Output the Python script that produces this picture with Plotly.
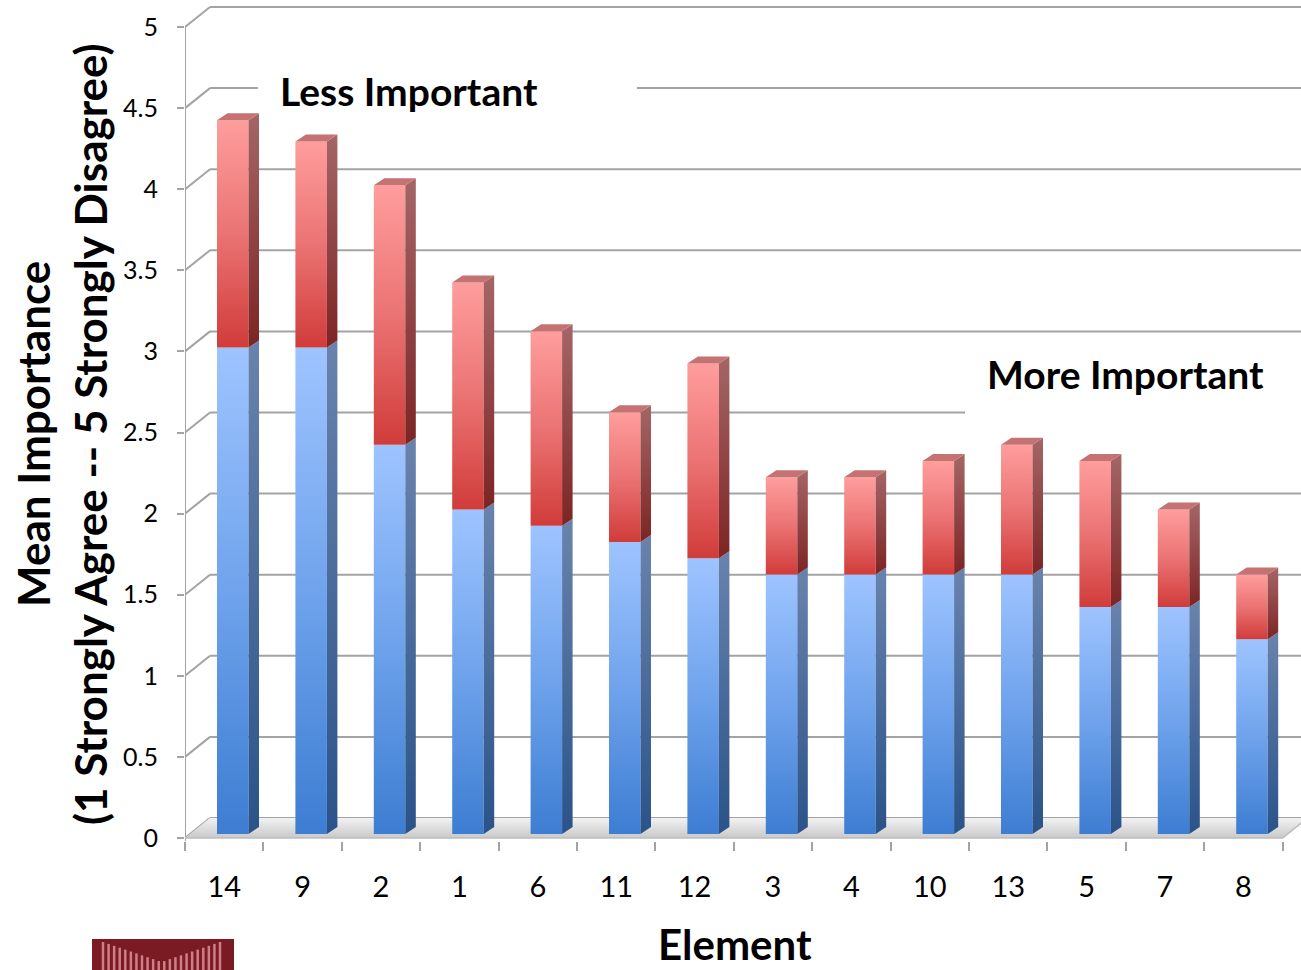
import plotly.graph_objects as go

# ---- data -------------------------------------------------------------
elements = ["14", "9", "2", "1", "6", "11", "12", "3", "4", "10", "13", "5", "7", "8"]
lower_part = [3.0, 3.0, 2.4, 2.0, 1.9, 1.8, 1.7, 1.6, 1.6, 1.6, 1.6, 1.4, 1.4, 1.2]
upper_part = [1.4, 1.27, 1.6, 1.4, 1.2, 0.8, 1.2, 0.6, 0.6, 0.7, 0.8, 0.9, 0.6, 0.4]
y_ticks = [0, 0.5, 1, 1.5, 2, 2.5, 3, 3.5, 4, 4.5, 5]
y_tick_text = ["0", "0.5", "1", "1.5", "2", "2.5", "3", "3.5", "4", "4.5", "5"]

# ---- geometry (pixels -> axis units) ----------------------------------
W, H = 1301, 970
ML, MB = 185, 129
PLOT_W, PLOT_H = W - ML, H - MB
CAT_PX = 78.4       # width of one category
UNIT_PX = 162.2     # height of one value unit
ZERO_PX = 838       # pixel row of value 0 on the front plane

X0 = -0.5
X1 = X0 + PLOT_W / CAT_PX
Y0 = -(PLOT_H - ZERO_PX) / UNIT_PX
Y1 = ZERO_PX / UNIT_PX

WALL_DX, WALL_DY = 25 / CAT_PX, 20 / UNIT_PX      # depth of the walls
BAR_DX, BAR_DY = 10.5 / CAT_PX, 7 / UNIT_PX       # depth of each bar
BAR_OFF = 32 / CAT_PX                             # front face left offset
BAR_W = 31.5 / CAT_PX
BAR_BASE = 4 / UNIT_PX

FONT = "Lato"
GRID = "#A3A3A3"


def xp(px):
    return (px - ML) / PLOT_W


def yp(py):
    return (PLOT_H - py) / PLOT_H


def xd(px):
    return X0 + (px - ML) / CAT_PX


def yd(py):
    return (ZERO_PX - py) / UNIT_PX


BLUE_FRONT = [[0, "#3D7DD2"], [0.5, "#6FA3EC"], [1, "#9EC4FF"]]
BLUE_SIDE = [[0, "#2A5389"], [1, "#6983AD"]]
RED_FRONT = [[0, "#D03C3A"], [0.5, "#EB7373"], [1, "#FF9D9D"]]
RED_SIDE = [[0, "#7D2424"], [1, "#A56666"]]
RED_TOP = "#C47272"

fig = go.Figure()


def poly(xs, ys, scale=None, color=None):
    kw = dict(x=xs + [xs[0]], y=ys + [ys[0]], mode="lines", fill="toself",
              line=dict(width=0), hoverinfo="skip", showlegend=False)
    if scale is not None:
        kw["fillgradient"] = dict(type="vertical", colorscale=scale)
    else:
        kw["fillcolor"] = color
    fig.add_trace(go.Scatter(**kw))


# floor slab
n = len(elements)
poly([X0, X0 + n, X0 + n + WALL_DX, X0 + WALL_DX],
     [0, 0, WALL_DY, WALL_DY],
     scale=[[0, "#C9C9C9"], [1, "#F2F2F2"]])
fig.add_trace(go.Scatter(x=[X0, X0 + n, X0 + n + WALL_DX], y=[0, 0, WALL_DY],
                         mode="lines", line=dict(color="#BDBDBD", width=1.5),
                         hoverinfo="skip", showlegend=False))

# bars: front face, side face and top of each stacked segment
for i in range(n):
    L = i - 0.5 + BAR_OFF
    R = L + BAR_W
    b0 = BAR_BASE
    b1 = b0 + lower_part[i]
    b2 = b1 + upper_part[i]
    for lo, hi, front, side in [(b0, b1, BLUE_FRONT, BLUE_SIDE),
                                (b1, b2, RED_FRONT, RED_SIDE)]:
        poly([L, R, R, L], [lo, lo, hi, hi], scale=front)
        poly([R, R + BAR_DX, R + BAR_DX, R], [lo, lo + BAR_DY, hi + BAR_DY, hi], scale=side)
    poly([L, R, R + BAR_DX, L + BAR_DX], [b2, b2, b2 + BAR_DY, b2 + BAR_DY], color=RED_TOP)

# ---- walls and gridlines ---------------------------------------------
shapes = []
for v in y_ticks:
    shapes.append(dict(type="line", xref="x", yref="y", x0=X0, y0=v,
                       x1=X0 + WALL_DX, y1=v + WALL_DY,
                       line=dict(color=GRID, width=2), layer="below"))
    shapes.append(dict(type="line", xref="x", yref="y", x0=X0 + WALL_DX, y0=v + WALL_DY,
                       x1=X1, y1=v + WALL_DY,
                       line=dict(color=GRID, width=2), layer="below"))
# front vertical axis line
shapes.append(dict(type="line", xref="x", yref="y", x0=X0, x1=X0, y0=Y0, y1=5,
                   line=dict(color=GRID, width=2), layer="below"))
# white boxes behind the two notes
shapes.append(dict(type="rect", xref="x", yref="y",
                   x0=xd(258), x1=xd(637), y0=yd(112), y1=yd(68),
                   fillcolor="white", line=dict(width=0), layer="below"))
shapes.append(dict(type="rect", xref="x", yref="y",
                   x0=xd(965), x1=X1, y0=yd(418), y1=yd(345),
                   fillcolor="white", line=dict(width=0), layer="below"))

# small logo block
shapes.append(dict(type="rect", xref="paper", yref="paper",
                   x0=xp(92), x1=xp(234), y0=yp(970), y1=yp(939),
                   fillcolor="#7A1A23", line=dict(width=0)))
n_str = 22
for k in range(n_str):
    sx = 103 + k * (220 - 103) / (n_str - 1)
    t = abs(k - (n_str - 1) / 2) / ((n_str - 1) / 2)
    top = 962 - 20 * t
    shapes.append(dict(type="line", xref="paper", yref="paper",
                       x0=xp(sx), x1=xp(sx), y0=yp(970), y1=yp(top),
                       line=dict(color="rgba(235,160,168,0.75)", width=2.5)))

annotations = [
    dict(text="<b>Less Important</b>", x=xp(278), y=yp(91), xref="paper", yref="paper",
         xanchor="left", yanchor="middle", showarrow=False,
         font=dict(family=FONT, size=39, color="black")),
    dict(text="<b>More Important</b>", x=xp(985), y=yp(374), xref="paper", yref="paper",
         xanchor="left", yanchor="middle", showarrow=False,
         font=dict(family=FONT, size=39, color="black")),
    dict(text="<b>Mean Importance</b>", x=xp(33), y=yp(434), xref="paper", yref="paper",
         xanchor="center", yanchor="middle", textangle=-90, showarrow=False,
         font=dict(family=FONT, size=44, color="black")),
    dict(text="<b>(1 Strongly Agree -- 5 Strongly Disagree)</b>", x=xp(90), y=yp(434),
         xref="paper", yref="paper", xanchor="center", yanchor="middle", textangle=-90,
         showarrow=False, font=dict(family=FONT, size=44, color="black")),
    dict(text="<b>Element</b>", x=xp(735), y=yp(944), xref="paper", yref="paper",
         xanchor="center", yanchor="middle", showarrow=False,
         font=dict(family=FONT, size=42, color="black")),
]

fig.update_layout(
    width=W, height=H,
    margin=dict(l=ML, r=0, t=0, b=MB, pad=0),
    paper_bgcolor="white", plot_bgcolor="white",
    showlegend=False,
    shapes=shapes,
    annotations=annotations,
    xaxis=dict(range=[X0, X1], tickmode="array", tickvals=list(range(n)), ticktext=elements,
               ticks="", showgrid=False, zeroline=False, showline=False,
               tickfont=dict(family=FONT, size=29, color="black"),
               ticklabelstandoff=26,
               minor=dict(ticks="outside", tickmode="array",
                          tickvals=[k - 0.5 for k in range(n + 1)],
                          ticklen=9, tickwidth=2, tickcolor=GRID, showgrid=False)),
    yaxis=dict(range=[Y0, Y1], tickmode="array", tickvals=y_ticks, ticktext=y_tick_text,
               ticks="outside", ticklen=7, tickwidth=2, tickcolor=GRID,
               showgrid=False, zeroline=False, showline=False,
               tickfont=dict(family=FONT, size=25, color="black"),
               ticklabelstandoff=14),
)

fig.write_html("out.html")
